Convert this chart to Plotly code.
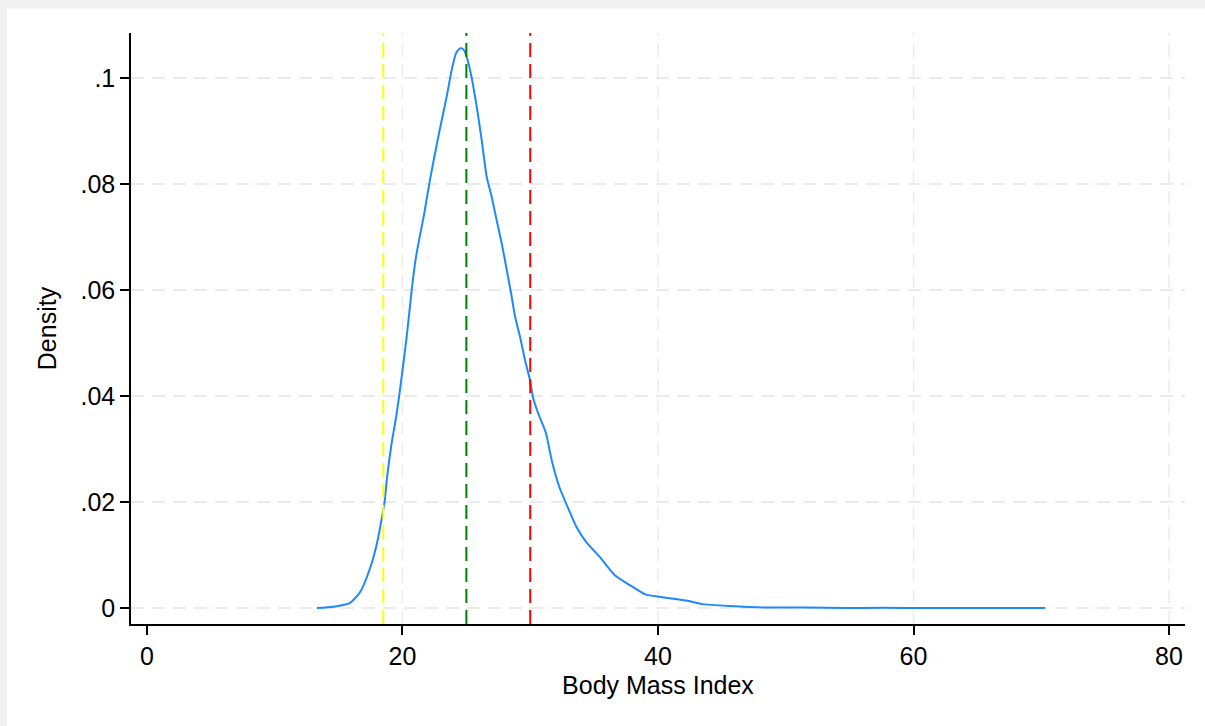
import plotly.graph_objects as go

# Kernel density of BMI
bmi = [13.3, 14.6, 15.9, 16.7, 17.5, 18.0, 18.4, 18.6, 18.8, 19.15, 19.5, 19.75,
       20.33, 20.72, 21.06, 21.4, 21.7, 22.15, 22.8, 23.46, 23.85, 24.19, 24.4,
       24.6, 24.8, 25.0, 25.2, 25.42, 25.81, 26.2, 26.59, 26.98, 27.37, 27.77,
       28.16, 28.55, 28.81, 29.2, 29.59, 29.98, 30.24, 30.6, 31.23, 31.68, 32.27,
       33.03, 33.62, 34.37, 35.42, 36.62, 37.82, 39.01, 40.21, 42.31, 43.51, 45.6,
       48.6, 51.6, 54.6, 57.6, 60.6, 64.0, 67.0, 70.3]
density = [0.0, 0.00025, 0.001, 0.0031, 0.0078, 0.0122, 0.0172, 0.0201, 0.0248,
           0.0311, 0.036, 0.0402, 0.0512, 0.06, 0.0663, 0.0707, 0.0744, 0.0808,
           0.0889, 0.0965, 0.1015, 0.1047, 0.1054, 0.1056, 0.1053, 0.1042, 0.1024,
           0.1, 0.0946, 0.0883, 0.0814, 0.0776, 0.0732, 0.0688, 0.0638, 0.0587,
           0.055, 0.0512, 0.0468, 0.043, 0.0395, 0.0369, 0.033, 0.0279, 0.0229,
           0.0185, 0.0153, 0.0125, 0.0097, 0.0062, 0.0043, 0.0026, 0.0021, 0.0014,
           0.00075, 0.0004, 0.0001, 0.00013, 0.00003, 0.00005, 0.0, 0.00004, 0.0,
           0.00002]

# Reference cut-points (underweight, overweight, obese)
cut_points = [18.5, 25, 30]
cut_colors = ["#ffff00", "#008000", "#ff0000"]

x_ticks = [0, 20, 40, 60, 80]
x_grid = [20, 40, 60, 80]
y_ticks = [0, 0.02, 0.04, 0.06, 0.08, 0.1]
y_ticktext = ["0", ".02", ".04", ".06", ".08", ".1"]

FONT = "Liberation Sans, Arial, Helvetica, sans-serif"
GRID = "#ebebeb"

fig = go.Figure()
fig.add_trace(go.Scatter(x=bmi, y=density, mode="lines",
                         line=dict(color="#1e88ff", width=2, shape="spline", smoothing=0.6),
                         showlegend=False, hoverinfo="skip"))

shapes = []
# outer gray frame with white panel
shapes.append(dict(type="rect", xref="paper", yref="paper",
                   x0=-0.1177, x1=1.2, y0=-0.4, y1=1.0415,
                   fillcolor="white", line=dict(width=0), layer="below"))
for g in x_grid:
    shapes.append(dict(type="line", xref="x", yref="paper", x0=g, x1=g, y0=0, y1=1,
                       line=dict(color=GRID, width=1.5, dash="13px,8px"), layer="below"))
for c, col in zip(cut_points, cut_colors):
    shapes.append(dict(type="line", xref="x", yref="paper", x0=c, x1=c, y0=0, y1=1,
                       line=dict(color=col, width=2, dash="14px,7px"), layer="above"))

fig.update_layout(
    width=1205, height=726,
    margin=dict(l=131, r=20, t=33, b=102),
    paper_bgcolor="#f1f1f1",
    plot_bgcolor="rgba(0,0,0,0)",
    font=dict(family=FONT, size=25, color="black"),
    shapes=shapes,
    xaxis=dict(range=[-1.25, 81.25], tickvals=x_ticks, ticktext=[str(t) for t in x_ticks],
               showgrid=False, zeroline=False, showline=True, linecolor="black", linewidth=1.5,
               ticks="outside", ticklen=9, tickwidth=1.5, tickcolor="black",
               title=dict(text="Body Mass Index", standoff=8, font=dict(size=25)),
               layer="above traces"),
    yaxis=dict(range=[-0.003, 0.1085], tickvals=y_ticks, ticktext=y_ticktext,
               showgrid=True, gridcolor=GRID, gridwidth=1.5, griddash="13px,8px",
               zeroline=False, showline=True, linecolor="black", linewidth=1.5,
               ticks="outside", ticklen=9, tickwidth=1.5, tickcolor="black",
               title=dict(text="Density", standoff=17, font=dict(size=25))),
)

fig.write_html("out.html", config={"displayModeBar": False},
               post_script="document.body.style.margin='0';document.body.style.overflow='hidden';")
